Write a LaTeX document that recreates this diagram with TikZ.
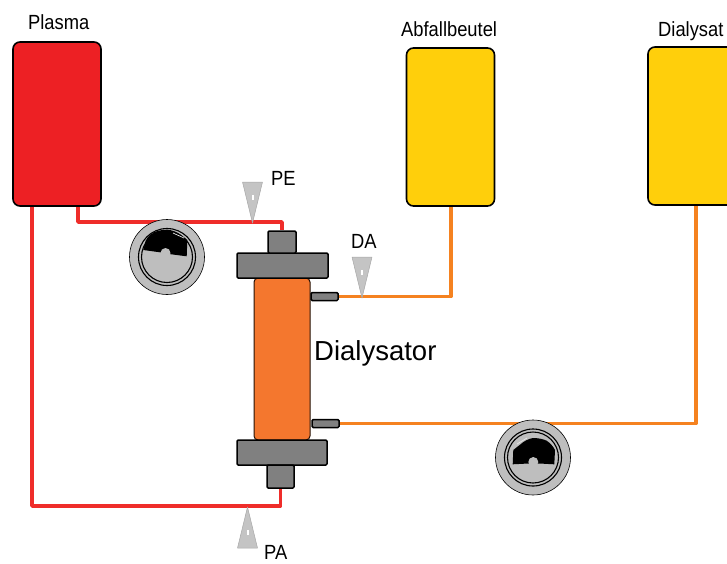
\documentclass[tikz,border=0pt]{standalone}
\usepackage{fontspec}
\setmainfont{Liberation Sans}
\definecolor{plasmared}{HTML}{ED2024}
\definecolor{lineRed}{HTML}{EF2D2A}
\definecolor{bagyellow}{HTML}{FFCF0B}
\definecolor{lineOrange}{HTML}{F58220}
\definecolor{bodyOrange}{HTML}{F4772E}
\definecolor{capGray}{HTML}{808080}
\definecolor{pumpGray}{HTML}{BEBEBE}
\definecolor{probeGray}{HTML}{C4C4C4}
\tikzset{
  x=1pt,y=-1pt,
  bag/.style={draw=black,line width=1.6pt,rounded corners=7pt,minimum width=88pt,minimum height=158pt,inner sep=0pt},
  capbox/.style={draw=black,fill=capGray,line width=1.5pt,rounded corners=1.2pt,inner sep=0pt},
  bodybox/.style={draw=black!85!bodyOrange,fill=bodyOrange,line width=1pt,rounded corners=4pt,inner sep=0pt,minimum width=56pt,minimum height=162pt},
  tube/.style={line width=3.6pt,line join=round},
  label/.style={inner sep=0pt,font=\fontsize{20.5}{22}\selectfont,xscale=0.895,anchor=base west},
  probe/.pic={
    \fill[probeGray,draw=probeGray!85!black,line width=0.5pt,line join=round] (-10,-41) -- (10,-41) -- (0,0) -- cycle;
    \fill[white] (-1,-28) rectangle (1,-23);
  },
  pump/.pic={
    \fill[pumpGray,draw=black,line width=0.6pt] (0,0) circle[radius=37.5];
    \draw[black,line width=1.1pt] (0,0) circle[radius=28.5];
    \draw[black,line width=1.1pt] (0,0) circle[radius=25.5];
  }
}
\begin{document}
\begin{tikzpicture}
\useasboundingbox (0,0) rectangle (727,563);
\clip (0,0) rectangle (727,563);
\node[bag,fill=plasmared,minimum height=164pt] (plasma) at (57,124) {};
\node[bag,fill=bagyellow] (waste) at (450.5,127) {};
\node[bag,fill=bagyellow] (dialysate) at (692,126) {};

\node[bodybox] (body) at (282,359) {};
\node[capbox,minimum width=91pt,minimum height=25pt] (topcap) at (282.5,265.5) {};
\node[capbox,minimum width=28pt,minimum height=22pt] (topnub) at (282,242) {};
\node[capbox,minimum width=90pt,minimum height=25pt] (botcap) at (282,452.5) {};
\node[capbox,minimum width=27pt,minimum height=23pt] (botnub) at (280.5,476.5) {};
\node[capbox,minimum width=27pt,minimum height=8pt] (portA) at (324.5,296.5) {};
\node[capbox,minimum width=27pt,minimum height=8pt] (portB) at (325.5,423.5) {};

\draw[tube,lineRed] ([xshift=21pt]plasma.south) -- (78,222) -- (282,222) -- (topnub.north);
\draw[tube,lineRed] ([xshift=-25pt]plasma.south) -- (32,506) -- (280.5,506) -- (botnub.south);
\draw[tube,lineOrange] (portA.east) -- (451,296.5) -- ([xshift=0.5pt]waste.south);
\draw[tube,lineOrange] (portB.east) -- (696,423.5) -- ([xshift=4pt]dialysate.south);

% pumps
\pic at (167,257) {pump};
\fill[black] (143.3,250) -- (145.7,240.7) .. controls (148,236) and (151,234) .. (154,232.3) .. controls (158,230.5) and (163,229.7) .. (167.3,229.7) .. controls (172,230) and (177,232) .. (180.7,234.7) -- (187.3,240) -- (186.7,256.3) -- (169,254) -- (160,252.3) -- cycle;
\fill[pumpGray] (165.5,253) circle[radius=5];
\draw[pumpGray!40!white,line width=0.7pt] (173,233) -- (184,238);
\pic at (533,457.5) {pump};
\fill[black] (512.7,464.3) -- (513.3,450) -- (520,444.7) .. controls (524,441) and (529,438.5) .. (533.3,438) .. controls (538,438) and (543,439) .. (546.7,440.7) .. controls (550,443) and (553,446) .. (555,450) -- (554.3,464.3) -- (539.3,463.5) -- (528.3,463.5) -- cycle;
\fill[pumpGray] (533.3,462) circle[radius=5];
\draw[pumpGray!40!white,line width=0.8pt] (517,444) -- (527,438);

% pressure probes
\pic at (252.5,223) {probe};
\pic at (362,298) {probe};
\pic[yscale=-1] at (247.5,507) {probe};

% labels
\node[label] (lblPlasma) at (28,29.5) {Plasma};
\node[label] (lblWaste) at (401,36.5) {Abfallbeutel};
\node[label] (lblDial) at (658,36.5) {Dialysat};
\node[label] (lblPE) at (271,185) {PE};
\node[label] (lblDA) at (351,248) {DA};
\node[label] (lblPA) at (264,559.5) {PA};
\node[inner sep=0pt,anchor=base west,font=\fontsize{27.5}{30}\selectfont] (lblDz) at (314,360) {Dialysator};
\end{tikzpicture}
\end{document}
